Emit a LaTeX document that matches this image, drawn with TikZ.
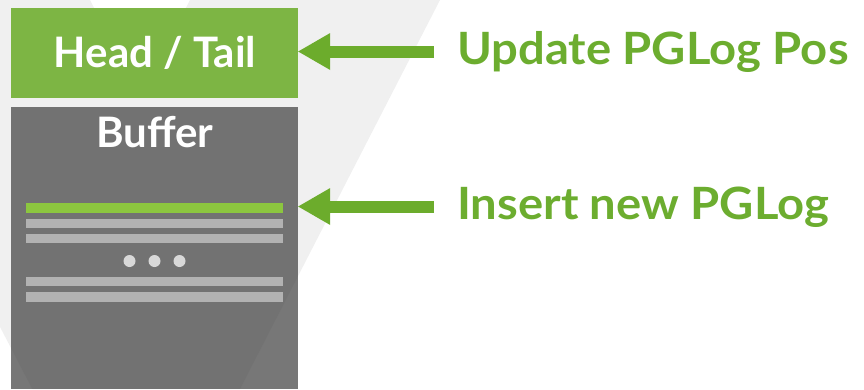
\documentclass[tikz,border=0pt]{standalone}
\usepackage{fontspec}
\setmainfont{Lato}
\newfontfamily\widelato{Lato}[FakeStretch=1.06]
\usetikzlibrary{arrows.meta}
\definecolor{vshade}{HTML}{F0F0F0}
\definecolor{headgreen}{HTML}{7DB544}
\definecolor{arrowgreen}{HTML}{6CAC2C}
\definecolor{textgreen}{HTML}{6CAD2F}
\definecolor{newentry}{HTML}{8CC63F}
\definecolor{entrygray}{HTML}{B2B2B2}
\definecolor{dotgray}{HTML}{D8D8D8}
\definecolor{bufshade}{HTML}{494949}
\tikzset{
  boxlabel/.style={text=white, font=\bfseries\fontsize{42}{42}\selectfont, inner sep=0pt, anchor=base},
  sidelabel/.style={text=textgreen, font=\widelato\bfseries\fontsize{44.5}{44.5}\selectfont, inner sep=0pt, anchor=base west},
  headbox/.style={fill=headgreen, draw=none, inner sep=0pt, minimum width=287pt, minimum height=90pt},
  bufbox/.style={fill=bufshade, fill opacity=0.75, draw=none, inner sep=0pt, minimum width=287pt, minimum height=282pt},
  pointer/.style={draw=arrowgreen, line width=12pt,
    -{Triangle[length=32pt, width=37pt, line width=0pt, fill=arrowgreen]}},
}
\begin{document}
\begin{tikzpicture}[x=1pt, y=-1pt]
  \useasboundingbox (0,0) rectangle (864,389);
  \clip (0,0) rectangle (864,389);

  % large pale V in the background
  \fill[vshade] (-170,0) -- (90,0) -- (140,96.2) -- (190,0) -- (440,0)
    -- (240,389) -- (32.3,389) -- cycle;

  % head / tail pointer block
  \node[headbox] (hb) at (154.5,53) {};
  \node[boxlabel] (hbtext) at (155,67) {Head / Tail};

  % buffer block
  \node[bufbox] (buf) at (154.5,248) {};
  \node[boxlabel] (buftext) at (155,147) {Buffer};

  % log entries inside the buffer
  \fill[newentry]  (26,203) rectangle (283,213);
  \fill[entrygray] (26,219) rectangle (283,228);
  \fill[entrygray] (26,234) rectangle (283,243);
  \fill[dotgray] (129.5,261) circle (6);
  \fill[dotgray] (154.5,261) circle (6);
  \fill[dotgray] (179.5,261) circle (6);
  \fill[entrygray] (26,277) rectangle (283,286);
  \fill[entrygray] (26,292) rectangle (283,302);

  % side labels and their pointers
  \node[sidelabel] (upd) at (457,64) {Update PGLog Pos};
  \node[sidelabel] (ins) at (457,219) {Insert new PGLog};
  \coordinate (updfrom) at (434,51.5);
  \coordinate (insfrom) at (434,206.5);
  \draw[pointer] (updfrom) -- (hb.east |- updfrom);
  \draw[pointer] (insfrom) -- (buf.east |- insfrom);
\end{tikzpicture}
\end{document}
